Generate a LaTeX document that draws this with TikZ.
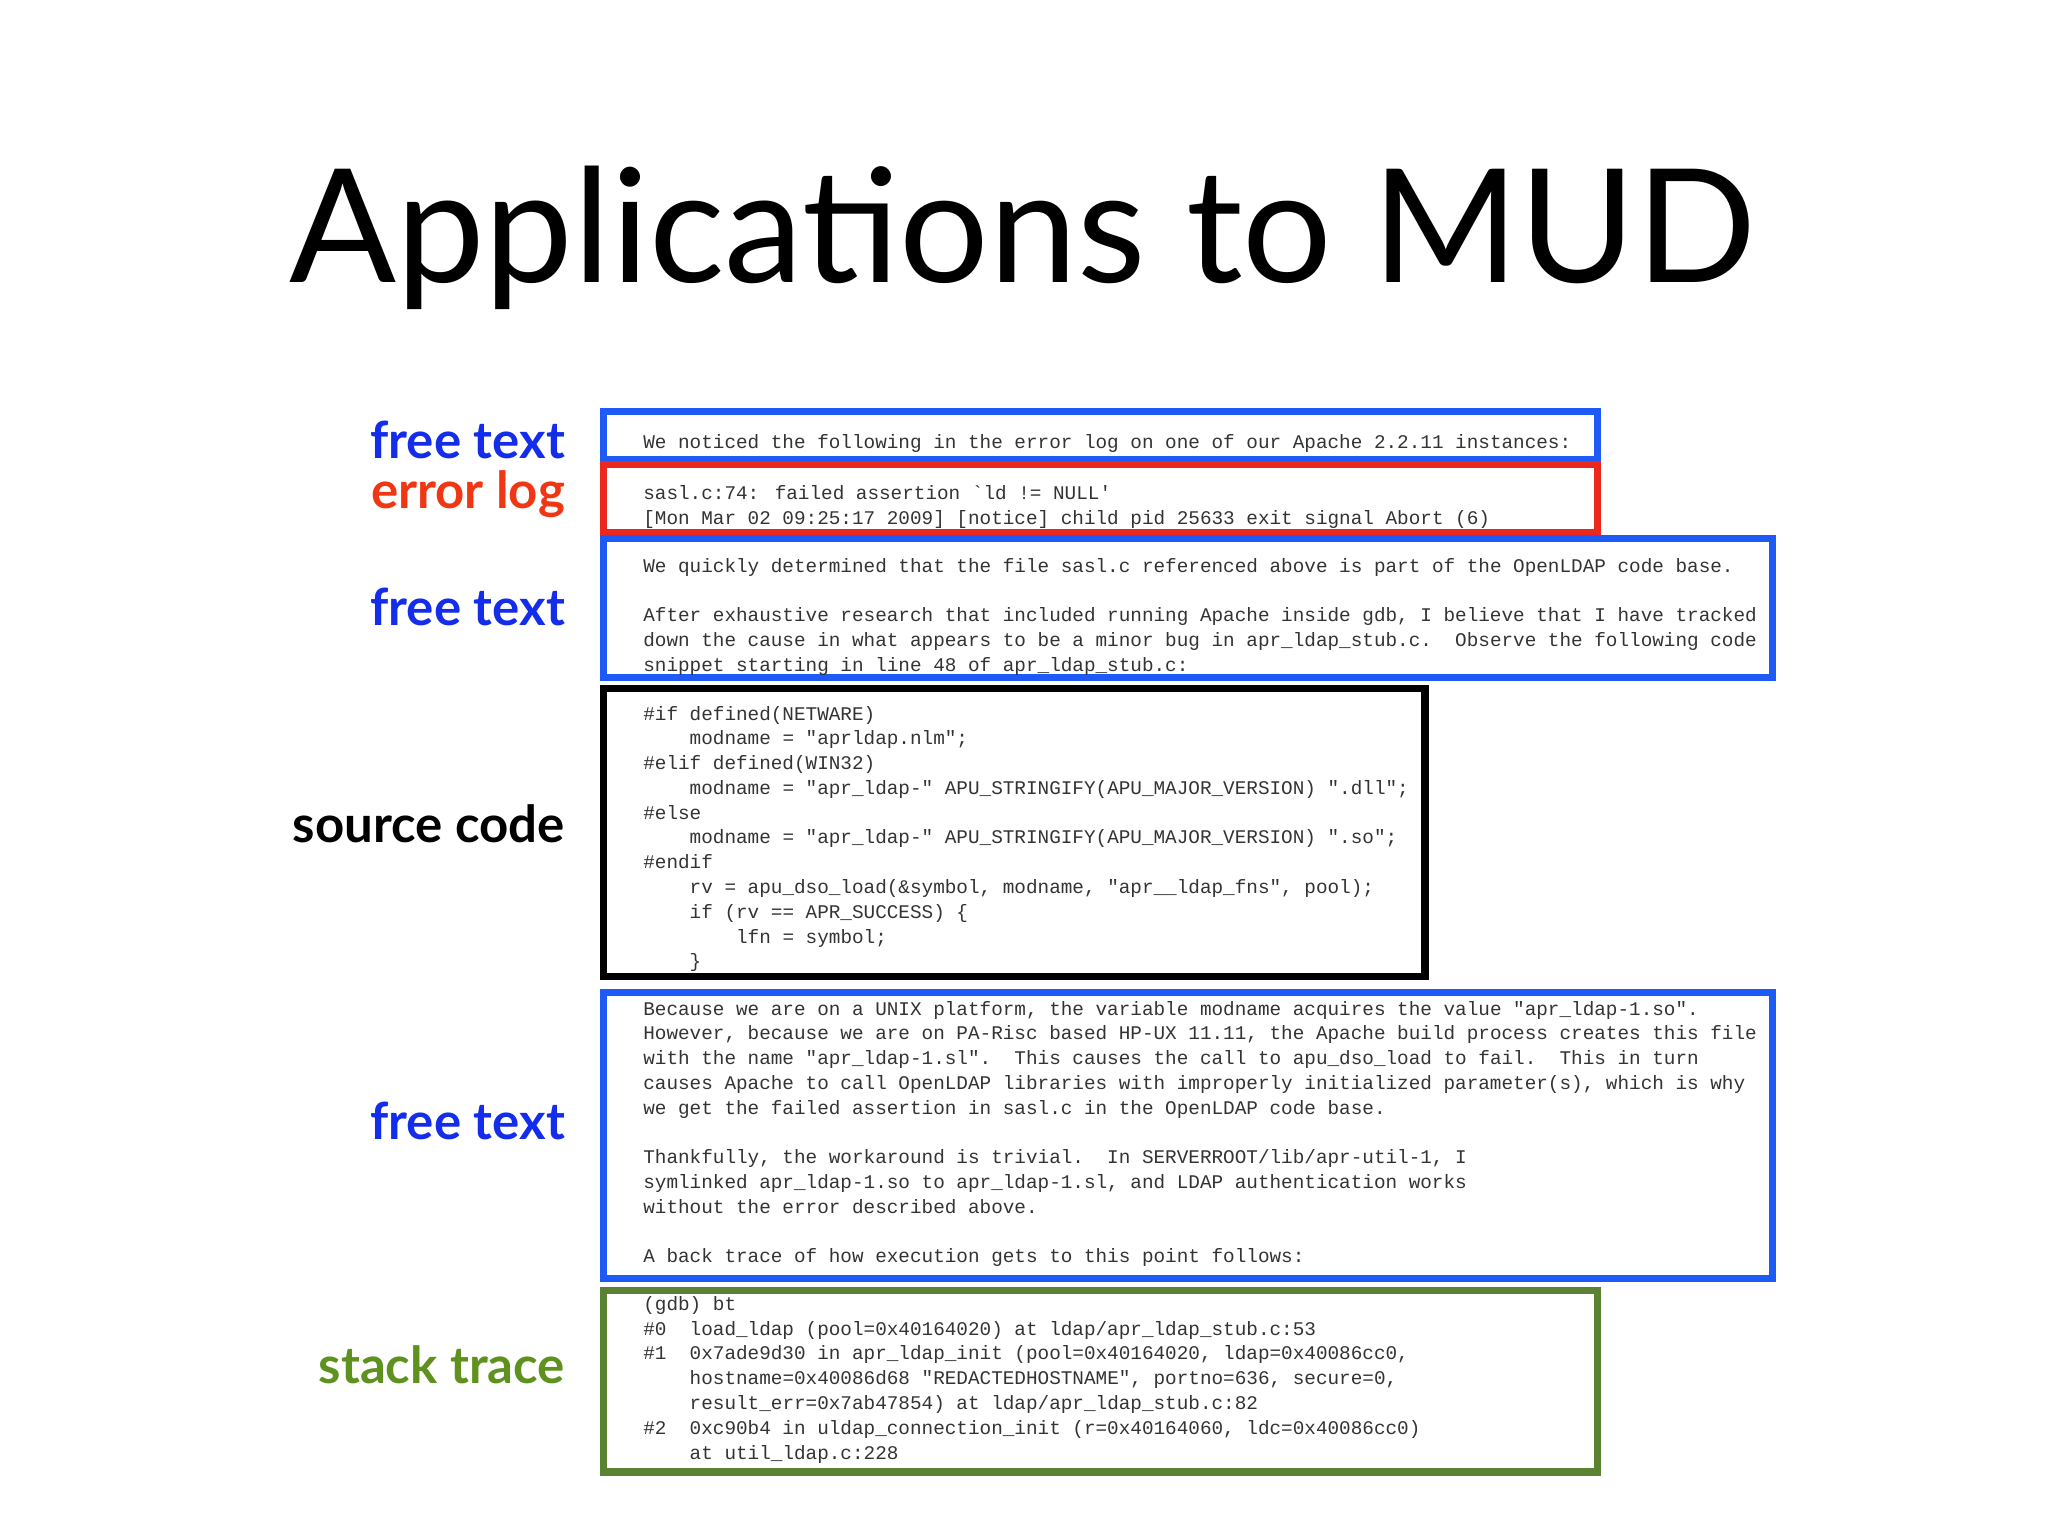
\documentclass[tikz,border=0pt]{standalone}
\usepackage{fontspec}
\setmainfont{Lato}
\newfontfamily\codefont{Liberation Mono}
\definecolor{boxblue}{RGB}{30,90,245}
\definecolor{labblue}{RGB}{20,45,235}
\definecolor{boxred}{RGB}{235,40,30}
\definecolor{labred}{RGB}{240,55,20}
\definecolor{boxgreen}{RGB}{90,130,50}
\definecolor{labgreen}{RGB}{95,145,30}
\tikzset{
  box/.style={line width=2pt},
  lab/.style={anchor=east, font=\fontsize{14.5}{17}\selectfont\bfseries},
  code/.style={anchor=north west, inner sep=0pt, align=left, text=black!80,
    font=\codefont\fontsize{5.5}{7.05}\selectfont}
}
\begin{document}
\begin{tikzpicture}[x=0.013061cm, y=-0.013061cm]
    \useasboundingbox (0,0) rectangle (1568,1176);
    \node (title) at (783,182) {\fontsize{45}{50}\selectfont Applications to MUD};
    % boxes
    \draw[box, boxblue]  (462,315) rectangle (1223,352);
    \draw[box, boxred]   (462,356) rectangle (1223,408);
    \draw[box, boxblue]  (462,412) rectangle (1357,519);
    \draw[box, black]    (462,527) rectangle (1091,748);
    \draw[box, boxblue]  (462,760) rectangle (1357,979);
    \draw[box, boxgreen] (462,988) rectangle (1223,1127);
    % labels
    \node[lab, labblue]  (free1) at (442,337)  {free text};
    \node[lab, labred]   (err)   at (442,378)  {error log};
    \node[lab, labblue]  (free2) at (442,465)  {free text};
    \node[lab, black]    (src)   at (442,631)  {source code};
    \node[lab, labblue]  (free3) at (442,858)  {free text};
    \node[lab, labgreen] (stack) at (442,1045) {stack trace};
    % texts
    \node[code] (t1) at (492,332) {We noticed the following in the error log on one of our Apache 2.2.11 instances:};
    \node[code] (t2) at (492,371) {sasl.c:74: failed assertion `ld != NULL'\\
      {[}Mon Mar 02 09:25:17 2009] [notice] child pid 25633 exit signal Abort (6)};
    \node[code] (t3) at (492,427) {We quickly determined that the file sasl.c referenced above is part of the OpenLDAP code base.\\[7.05pt]
      After exhaustive research that included running Apache inside gdb, I believe that I have tracked\\
      down the cause in what appears to be a minor bug in apr\_ldap\_stub.c.\ \ Observe the following code\\
      snippet starting in line 48 of apr\_ldap\_stub.c:};
    \node[code] (t4) at (492,540) {\#if defined(NETWARE)\\
      \ \ \ \ modname = "aprldap.nlm";\\
      \#elif defined(WIN32)\\
      \ \ \ \ modname = "apr\_ldap-" APU\_STRINGIFY(APU\_MAJOR\_VERSION) ".dll";\\
      \#else\\
      \ \ \ \ modname = "apr\_ldap-" APU\_STRINGIFY(APU\_MAJOR\_VERSION) ".so";\\
      \#endif\\
      \ \ \ \ rv = apu\_dso\_load(\&symbol, modname, "apr\_\_ldap\_fns", pool);\\
      \ \ \ \ if (rv == APR\_SUCCESS) \{\\
      \ \ \ \ \ \ \ \ lfn = symbol;\\
      \ \ \ \ \}};
    \node[code] (t5) at (492,766) {Because we are on a UNIX platform, the variable modname acquires the value "apr\_ldap-1.so".\\
      However, because we are on PA-Risc based HP-UX 11.11, the Apache build process creates this file\\
      with the name "apr\_ldap-1.sl".\ \ This causes the call to apu\_dso\_load to fail.\ \ This in turn\\
      causes Apache to call OpenLDAP libraries with improperly initialized parameter(s), which is why\\
      we get the failed assertion in sasl.c in the OpenLDAP code base.\\[7.05pt]
      Thankfully, the workaround is trivial.\ \ In SERVERROOT/lib/apr-util-1, I\\
      symlinked apr\_ldap-1.so to apr\_ldap-1.sl, and LDAP authentication works\\
      without the error described above.\\[7.05pt]
      A back trace of how execution gets to this point follows:};
    \node[code] (t6) at (492,992) {(gdb) bt\\
      \#0\ \ load\_ldap (pool=0x40164020) at ldap/apr\_ldap\_stub.c:53\\
      \#1\ \ 0x7ade9d30 in apr\_ldap\_init (pool=0x40164020, ldap=0x40086cc0,\\
      \ \ \ \ hostname=0x40086d68 "REDACTEDHOSTNAME", portno=636, secure=0,\\
      \ \ \ \ result\_err=0x7ab47854) at ldap/apr\_ldap\_stub.c:82\\
      \#2\ \ 0xc90b4 in uldap\_connection\_init (r=0x40164060, ldc=0x40086cc0)\\
      \ \ \ \ at util\_ldap.c:228};
\end{tikzpicture}
\end{document}
